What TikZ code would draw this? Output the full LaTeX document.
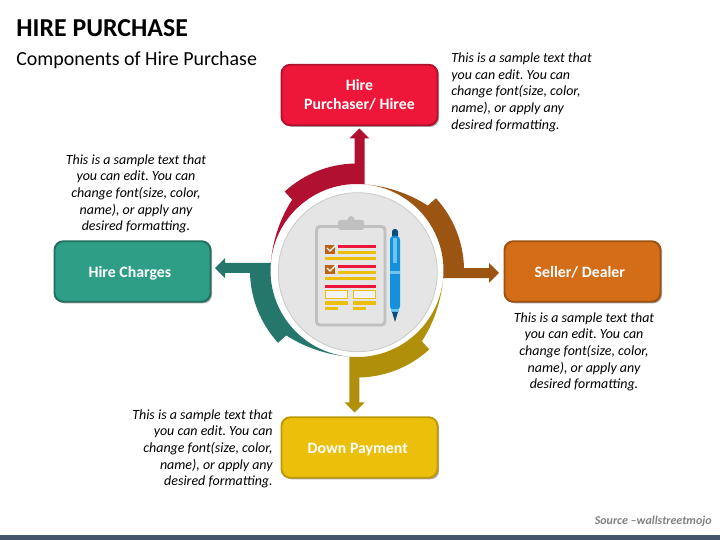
\documentclass[tikz,border=0pt]{standalone}
\usepackage{fontspec}
\setmainfont{Carlito}
\usepackage{xcolor}
\usetikzlibrary{positioning,calc,shadows}
\definecolor{hireRed}{HTML}{EE1739}
\definecolor{hireOrange}{HTML}{D36D17}
\definecolor{hireYellow}{HTML}{ECBF0B}
\definecolor{hireGreen}{HTML}{2F9E86}
\definecolor{ringRed}{HTML}{B11030}
\definecolor{ringBrown}{HTML}{9C5413}
\definecolor{ringOlive}{HTML}{B08F0A}
\definecolor{ringGreen}{HTML}{24776A}
\definecolor{barBlue}{HTML}{44546A}
\definecolor{penBlue}{HTML}{1490DC}
\definecolor{penDark}{HTML}{0B4F7A}
\definecolor{penLight}{HTML}{6CC4F0}
\definecolor{boardGray}{HTML}{C0C0C0}
\frenchspacing

\begin{document}
\begin{tikzpicture}[
  x=0.02cm,y=-0.02cm,
  compBox/.style={rectangle, rounded corners=5pt, minimum width=156*0.02cm, minimum height=60.5*0.02cm, line width=1.1pt, align=center, text=white, font=\fontsize{9}{10.8}\selectfont\bfseries, drop shadow={shadow xshift=0.9pt, shadow yshift=-0.9pt, opacity=0.35, fill=black}},
  oneLine/.style={text height=8.4pt, text depth=2pt},
  noteText/.style={font=\fontsize{7.95}{9.5}\selectfont\itshape, inner sep=0pt},
  redBar/.style={fill=hireRed},
  yelBar/.style={fill=hireYellow},
]
\useasboundingbox (0,0) rectangle (720,540);
\fill[barBlue] (0,535) rectangle (720,540);
% titles
\node[font=\fontsize{14.7}{17}\selectfont\bfseries, anchor=west, inner sep=0pt] (title) at (16,28.5) {HIRE PURCHASE};
\node[font=\fontsize{11.35}{13}\selectfont, anchor=west, inner sep=0pt] (subtitle) at (16,60) {Components of Hire Purchase};
\node[font=\fontsize{6.8}{8}\selectfont\bfseries\itshape, text=gray, anchor=east, inner sep=0pt] (source) at (712,521) {Source --wallstreetmojo};
% ring arrows, one shape turned four times
\foreach \ang/\col in {-90/ringBrown,180/ringOlive,90/ringGreen,0/ringRed} {
  \begin{scope}[shift={(357,270.5)},rotate=\ang,y=0.02cm]
    \fill[\col] (7.67,86.2) -- (7.67,132) -- (12.33,132) -- (2.33,142) -- (-7.67,132) -- (-2.33,132) -- (-2.33,107)
      arc[start angle=91.25,end angle=132.5,radius=107] -- (132.5:96)
      .. controls (147:93) and (162:89) .. (175:86.5)
      arc[start angle=175,end angle=85,radius=86.5] -- cycle;
  \end{scope}
}
% centre disc
\filldraw[fill=black!10, draw=black!20, line width=0.5pt] (357.8,272.2) circle (79.5);
% boxes
\node[compBox, fill=hireRed, draw=hireRed!75!black] (purchaser) at (359.5,95) {Hire\\Purchaser/ Hiree};
\node[compBox, oneLine, fill=hireOrange, draw=hireOrange!75!black] (seller) at (582.5,271.5) {Seller/ Dealer\kern3pt};
\node[compBox, oneLine, fill=hireGreen, draw=hireGreen!70!black] (charges) at (132.5,271.5) {Hire Charges\kern3pt};
\node[compBox, oneLine, fill=hireYellow, draw=hireYellow!80!black] (down) at (359.5,447.5) {Down Payment\kern2pt};
% notes
\node[noteText, align=left, anchor=north west] (noteTop) at (451,52.5) {This is a sample text that\\you can edit. You can\\change font(size, color,\\name), or apply any\\desired formatting.};
\node[noteText, align=center, anchor=north] (noteLeft) at (136,154) {This is a sample text that\\you can edit. You can\\change font(size, color,\\name), or apply any\\desired formatting.};
\node[noteText, align=center, anchor=north] (noteRight) at (584,312) {This is a sample text that\\you can edit. You can\\change font(size, color,\\name), or apply any\\desired formatting.};
\node[noteText, align=right, anchor=north east] (noteDown) at (273,409) {This is a sample text that\\you can edit. You can\\change font(size, color,\\name), or apply any\\desired formatting.};
% clipboard
\filldraw[fill=black!10, draw=boardGray, line width=1.7pt, rounded corners=2pt] (316.5,226.5) rectangle (385,325);
\filldraw[fill=boardGray, draw=boardGray] (351,219.5) circle (3);
\fill[boardGray, rounded corners=1pt] (338,220) rectangle (364,230);
\foreach \yy in {245,265} {
  \fill[hireOrange!90!black] (325,\yy) rectangle (335,\yy+9);
  \draw[white, line width=0.7pt] (327,\yy+3) -- (330,\yy+6) -- (337,\yy-1);
  \fill[redBar] (338,\yy) rectangle (376,\yy+3);
  \fill[yelBar] (338,\yy+6) rectangle (376,\yy+9);
  \fill[yelBar] (325,\yy+12) rectangle (376,\yy+15);
}
\fill[redBar] (325,285) rectangle (376,288);
\foreach \xx/\ww in {325/13,353/13} {
  \draw[hireYellow, line width=0.7pt, fill=black!5] (\xx+0.7,290.7) rectangle (\xx+22.3,298.3);
  \fill[yelBar] (\xx,301) rectangle (\xx+23,305);
  \fill[yelBar] (\xx,307) rectangle (\xx+\ww,310);
}
% pen
\fill[penDark, rounded corners=1.5pt] (392,229) rectangle (398,238);
\fill[penBlue, rounded corners=2pt] (390,236) rectangle (400,310);
\fill[penLight] (393,238) rectangle (397,263);
\fill[penLight] (390,271) rectangle (400,274);
\fill[penLight] (391,309) -- (399,309) -- (399,312) -- (391,312) -- cycle;
\fill[penDark] (392,312) -- (398,312) -- (395,322) -- cycle;
\end{tikzpicture}
\end{document}
